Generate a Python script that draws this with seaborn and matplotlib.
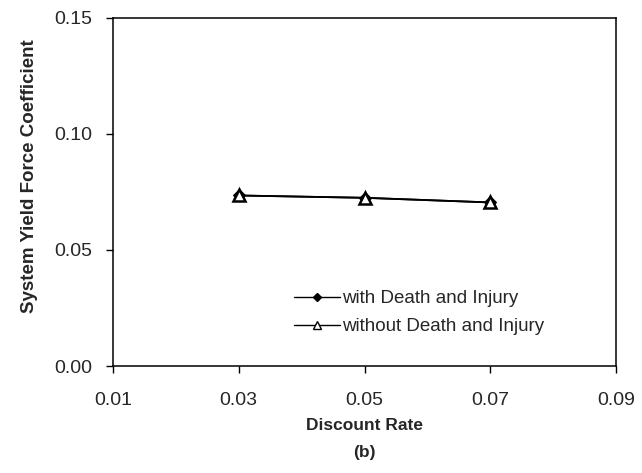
import matplotlib
matplotlib.use("Agg")
import matplotlib.pyplot as plt
import seaborn as sns
import pandas as pd

rates = [0.03, 0.05, 0.07]
with_death_injury = [0.0735, 0.0725, 0.0705]
without_death_injury = [0.0735, 0.0725, 0.0705]
x_ticks = [0.01, 0.03, 0.05, 0.07, 0.09]
y_ticks = [0.00, 0.05, 0.10, 0.15]

sns.set_style("white")
plt.rcParams["font.family"] = ["Liberation Sans", "DejaVu Sans"]

df = pd.concat([
    pd.DataFrame({"rate": rates, "coef": with_death_injury, "case": "with Death and Injury"}),
    pd.DataFrame({"rate": rates, "coef": without_death_injury, "case": "without Death and Injury"}),
])

fig = plt.figure(figsize=(6.42, 4.73), dpi=100)
ax = fig.add_axes([113 / 642, 1 - 366 / 473, (616 - 113) / 642, (366 - 18) / 473])

sns.lineplot(data=df[df.case == "with Death and Injury"], x="rate", y="coef",
             color="black", marker="D", markersize=6, markerfacecolor="black",
             markeredgecolor="black", linewidth=1.3, ax=ax,
             label="with Death and Injury")
sns.lineplot(data=df[df.case == "without Death and Injury"], x="rate", y="coef",
             color="black", marker="^", markersize=8, markerfacecolor="white",
             markeredgecolor="black", markeredgewidth=1.8, linewidth=1.3, ax=ax,
             label="without Death and Injury")

ax.set_xlim(0.01, 0.09)
ax.set_ylim(0.0, 0.15)
ax.set_xticks(x_ticks)
ax.set_xticklabels([f"{v:.2f}" for v in x_ticks], fontsize=14)
ax.set_yticks(y_ticks)
ax.set_yticklabels([f"{v:.2f}" for v in y_ticks], fontsize=14)
ax.tick_params(axis="both", direction="out", length=5, width=1, color="black",
               bottom=True, left=True)
ax.tick_params(axis="y", pad=10)
ax.tick_params(axis="x", pad=14)
for s in ax.spines.values():
    s.set_color("black")
    s.set_linewidth(1.1)

ax.set_xlabel("Discount Rate", fontsize=12.5, fontweight="bold", labelpad=6)
ax.set_ylabel("System Yield Force Coefficient", fontsize=13.5, fontweight="bold")
ax.yaxis.set_label_coords(-(113 - 38) / 503, (366 - 176) / 348)
fig.text((113 + 616) / 2 / 642, 1 - 452 / 473, "(b)", fontsize=12.5,
         fontweight="bold", ha="center", va="center")

leg = ax.legend(loc="upper left", bbox_to_anchor=(0.344, 0.24), frameon=False,
                fontsize=13.5, handlelength=2.5, handletextpad=0.1,
                labelspacing=0.6, borderaxespad=0, markerscale=0.75)
for h in leg.get_lines():
    h.set_linewidth(1.0)
    h.set_markeredgewidth(1.0)

fig.savefig("out.png", dpi=100)
